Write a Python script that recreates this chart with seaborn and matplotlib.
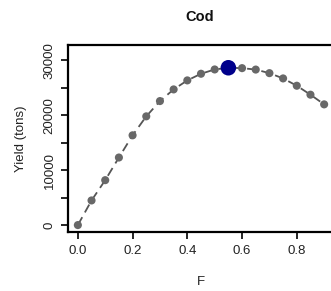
import matplotlib
matplotlib.use("Agg")
import matplotlib.pyplot as plt
import seaborn as sns
import pandas as pd

# fishing mortality vs equilibrium yield
f_values = [0.0, 0.05, 0.1, 0.15, 0.2, 0.25, 0.3, 0.35, 0.4, 0.45,
            0.5, 0.55, 0.6, 0.65, 0.7, 0.75, 0.8, 0.85, 0.9]
yield_tons = [0, 4480, 8170, 12290, 16330, 19780, 22560, 24680, 26320, 27530,
              28310, 28620, 28550, 28290, 27640, 26680, 25350, 23720, 21960]
f_msy = [0.55]
yield_msy = [28620]

x_ticks = [0.0, 0.2, 0.4, 0.6, 0.8]
x_tick_labels = ["0.0", "0.2", "0.4", "0.6", "0.8"]
y_ticks = [0, 5000, 10000, 15000, 20000, 25000, 30000]
y_tick_labels = ["0", "", "10000", "", "20000", "", "30000"]

df = pd.DataFrame({"F": f_values, "Yield": yield_tons})
msy = pd.DataFrame({"F": f_msy, "Yield": yield_msy})

sns.set_style("white")
plt.rcParams["font.family"] = ["Liberation Sans", "DejaVu Sans"]

fig = plt.figure(figsize=(3.31, 2.91), dpi=100)
# plot box runs a little past the right edge of the picture
ax = fig.add_axes([68 / 331, 59 / 291, 266 / 331, 187 / 291])

sns.lineplot(data=df, x="F", y="Yield", ax=ax, color="#555555",
             linewidth=1.3, linestyle=(0, (5, 3)), zorder=2)
sns.scatterplot(data=df, x="F", y="Yield", ax=ax, color="#686868",
                s=34, edgecolor="none", zorder=3)
sns.scatterplot(data=msy, x="F", y="Yield", ax=ax, color="#00008B",
                s=125, edgecolor="none", zorder=4)

ax.set_xlim(-0.036, 0.936)
ax.set_ylim(-1260, 32760)
ax.set_xticks(x_ticks)
ax.set_xticklabels(x_tick_labels)
ax.set_yticks(y_ticks)
ax.set_yticklabels(y_tick_labels, rotation=90, va="center")

ax.tick_params(axis="both", direction="out", length=5, width=1.2,
               color="black", labelsize=9.5, labelcolor="#222222", pad=4,
               bottom=True, left=True)
for side in ["left", "top", "bottom", "right"]:
    ax.spines[side].set_color("black")
    ax.spines[side].set_linewidth(1.6)

ax.set_xlabel("F", fontsize=9.5, color="#222222", labelpad=14)
ax.set_ylabel("Yield (tons)", fontsize=9.5, color="#222222", labelpad=12)
fig.text(200 / 331, 1 - 17 / 291, "Cod", ha="center", va="center",
         fontsize=10.5, fontweight="bold", color="#111111")

fig.savefig("out.png", dpi=100)
